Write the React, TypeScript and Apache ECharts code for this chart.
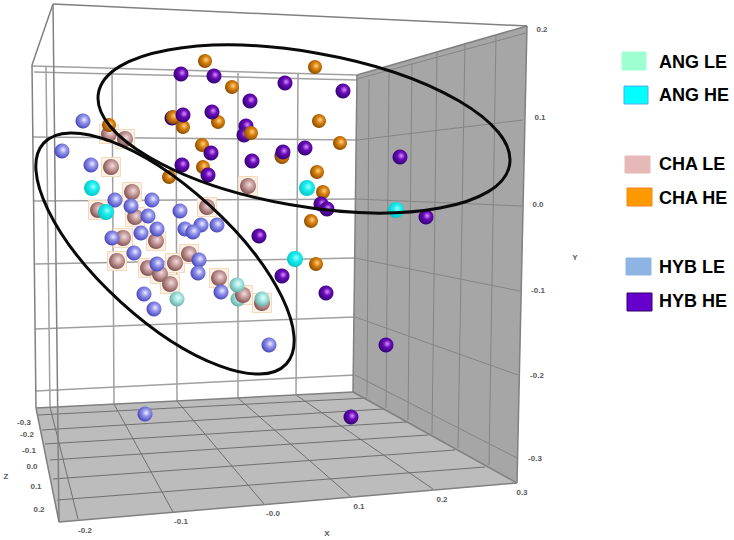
import React, { useEffect, useRef } from "react";
import * as echarts from "echarts";

// Points of the 3D score plot, as read on the projected view.
const hybLe = [[83,121],[62,151],[91,165],[115,200],[131,206],[152,200],[148,216],[180,211],[201,225],[217,225],[185,229],[193,232],[141,233],[157,229],[112,238],[134,253],[157,264],[199,260],[198,273],[144,294],[154,309],[221,292],[269,345],[145,414]];
const hybHeBehind = [[172,118],[246,126],[244,135],[282,156]];
const hybHe = [[181,74],[214,76],[285,83],[250,101],[183,115],[212,112],[211,153],[283,152],[252,161],[182,165],[208,175],[259,236],[343,91],[305,148],[400,157],[321,204],[327,209],[426,217],[282,276],[326,293],[386,345],[351,417]];
const chaHe = [[205,61],[232,87],[109,125],[173,117],[183,127],[218,122],[251,133],[202,145],[203,167],[169,177],[282,157],[315,67],[319,121],[340,143],[317,172],[323,192],[311,221],[316,264]];
const chaLe = [[109,134],[125,139],[111,167],[132,192],[248,186],[98,210],[135,217],[207,207],[123,238],[156,241],[117,261],[148,268],[160,274],[175,263],[189,254],[170,284],[219,278],[243,295],[262,303]];
const angHe = [[92,188],[106,212],[307,188],[396,210],[295,259]];
const angLeBehind = [[238,299]];
const angLe = [[177,299],[237,285],[262,299]];

const xTicks = ["-0.2", "-0.1", "-0.0", "0.1", "0.2", "0.3"];
const yTicks = ["0.2", "0.1", "0.0", "-0.1", "-0.2", "-0.3"];
const zTicks = ["-0.3", "-0.2", "-0.1", "0.0", "0.1", "0.2"];
const legendLabels = ["ANG LE", "ANG HE", "CHA LE", "CHA HE", "HYB LE", "HYB HE"];
const legendColors = ["#9effd0", "#00ffff", "#e6b8b7", "#ff9900", "#8eb4e3", "#6600cc"];
const legendBorders = ["#9effd0", "#55aaee", "#e6b8b7", "#ee8822", "#8eb4e3", "#30006a"];

const xPos = [[85,530],[181,521],[273,513],[359,506],[442,499],[522,492]];
const yPos = [[542,29],[540,117],[538,204],[538,290],[537,375],[535,458]];
const zPos = [[24,422],[27,434],[29,450],[32,466],[36,486],[39,509]];
const legendBoxes = [[622,52,24,18],[624,86,24,18],[625,156,25,17],[627,188,25,18],[626,258,25,17],[627,293,25,18]];
const legendY = [62,95,164,198,267,301];

const backLines = [[32,66,357,75],[34,72,357,80],[33,137,357,140],[33,201,355,199],[34,264,355,258],[35,329,355,317],[36,391,355,375],[46,67,50,407],[112,70,114,404],[176,71,177,401],[238,73,238,398],[298,74,296,395]];
const rightLines = [[357,79,526,33],[357,140,523,120],[355,199,522,206],[355,258,520,291],[355,317,518,375],[355,375,517,458],[369,79,367,396],[389,72,386,408],[412,63,408,420],[437,53,432,434],[465,43,458,448],[496,35,489,465]];
const floorLines = [[38,415,367,398],[42,430,383,409],[45,444,407,422],[50,460,428,435],[53,479,455,450],[57,500,485,467],[50,407,78,519],[114,404,173,512],[177,401,264,504],[238,398,350,496],[296,395,433,489]];
const frameLines = [[32,65,36,408],[32,65,53,4],[53,4,527,26],[53,4,59,522],[357,75,527,26],[357,75,353,392],[527,26,517,483],[36,408,353,392],[36,408,59,522],[59,522,517,483],[353,392,517,483]];

const sphere = (hi: string, mid: string, edge: string) =>
  new echarts.graphic.RadialGradient(0.58, 0.42, 0.62, [
    { offset: 0, color: hi },
    { offset: 0.4, color: mid },
    { offset: 1, color: edge },
  ]);

const seg = (l: number[], stroke: string, lineWidth: number, z: number) => ({
  type: "line", z, silent: true,
  shape: { x1: l[0], y1: l[1], x2: l[2], y2: l[3] },
  style: { stroke, lineWidth },
});

const label = (text: string, p: number[], font: any) => ({
  type: "text", z: 12, silent: true,
  style: { text, x: p[0], y: p[1], align: "center", verticalAlign: "middle", fontFamily: "Liberation Sans", ...font },
});

const tick = { fontSize: 8, fontWeight: "bold", fill: "#5a5a5a" };

const ring = (cx: number, cy: number, rx: number, ry: number, deg: number) => ({
  type: "ellipse", z: 10, silent: true, x: cx, y: cy, rotation: (-deg * Math.PI) / 180,
  shape: { cx: 0, cy: 0, rx, ry },
  style: { fill: "none", stroke: "#0a0a0a", lineWidth: 3 },
});

const balls = (name: string, data: number[][], size: number, color: any) => ({
  type: "scatter", name, data, symbol: "circle", symbolSize: size, silent: true,
  itemStyle: { color, opacity: 1 },
});

export default function App() {
  const ref = useRef<HTMLDivElement>(null);
  useEffect(() => {
    document.body.style.margin = "0";
    const chart = echarts.init(ref.current!, null, { renderer: "svg" });
    chart.setOption({
      animation: false,
      backgroundColor: "#ffffff",
      grid: { left: 0, right: 0, top: 0, bottom: 0 },
      xAxis: { type: "value", min: 0, max: 734, show: false },
      yAxis: { type: "value", min: 0, max: 540, inverse: true, show: false },
      graphic: [
        { type: "polygon", z: 0, silent: true, shape: { points: [[357,75],[527,26],[517,483],[353,392]] }, style: { fill: "#a6a6a6" } },
        { type: "polygon", z: 0, silent: true, shape: { points: [[36,408],[353,392],[517,483],[59,522]] }, style: { fill: "#bcbcbc" } },
        ...backLines.map((l) => seg(l, "#a0a0a0", 1.5, 1)),
        ...rightLines.map((l) => seg(l, "#858585", 1, 1)),
        ...floorLines.map((l) => seg(l, "#707070", 1, 1)),
        ...frameLines.map((l) => seg(l, "#808080", 1.5, 1)),
        ring(304, 129, 208.7, 77, 9.9),
        ring(165, 253.5, 164, 65.6, 42.3),
        ...xTicks.map((t, i) => label(t, xPos[i], tick)),
        ...yTicks.map((t, i) => label(t, yPos[i], tick)),
        ...zTicks.map((t, i) => label(t, zPos[i], tick)),
        label("X", [327, 533], tick),
        label("Y", [575, 257], tick),
        label("Z", [6, 476], tick),
        ...legendLabels.map((_, i) => ({
          type: "rect", z: 12, silent: true,
          shape: { x: legendBoxes[i][0], y: legendBoxes[i][1], width: legendBoxes[i][2], height: legendBoxes[i][3] },
          style: { fill: legendColors[i], stroke: legendBorders[i], lineWidth: 1 },
        })),
        ...legendLabels.map((t, i) => ({
          type: "text", z: 12, silent: true,
          style: { text: t, x: 659, y: legendY[i], align: "left", verticalAlign: "middle", fontFamily: "Liberation Sans", fontSize: 18, fontWeight: "bold", fill: "#000" },
        })),
      ],
      series: [
        {
          type: "scatter", name: "CHA LE box", data: chaLe, symbol: "rect", symbolSize: 19, silent: true,
          itemStyle: { color: "#fdf0e4", borderColor: "#f6d8ba", borderWidth: 1, opacity: 1 },
        },
        balls("ANG LE", angLeBehind, 15, sphere("#e4fffb", "#a6e6e0", "#60a8a0")),
        balls("CHA LE", chaLe, 16, sphere("#f3dcdc", "#c9a0a0", "#7d4c4c")),
        balls("HYB LE", hybLe, 15, sphere("#eeeeff", "#9292ea", "#4040b8")),
        balls("ANG LE", angLe, 15, sphere("#e4fffb", "#a6e6e0", "#60a8a0")),
        balls("HYB HE", hybHeBehind, 15, sphere("#d890ff", "#6a0cb8", "#2c006c")),
        balls("CHA HE", chaHe, 14, sphere("#ffd488", "#da8210", "#864800")),
        balls("HYB HE", hybHe, 15, sphere("#d890ff", "#6a0cb8", "#2c006c")),
        balls("ANG HE", angHe, 16, sphere("#9affff", "#1cecec", "#00c4c4")),
      ],
    });
    return () => chart.dispose();
  }, []);
  return <div ref={ref} style={{ width: 734, height: 540 }} />;
}
